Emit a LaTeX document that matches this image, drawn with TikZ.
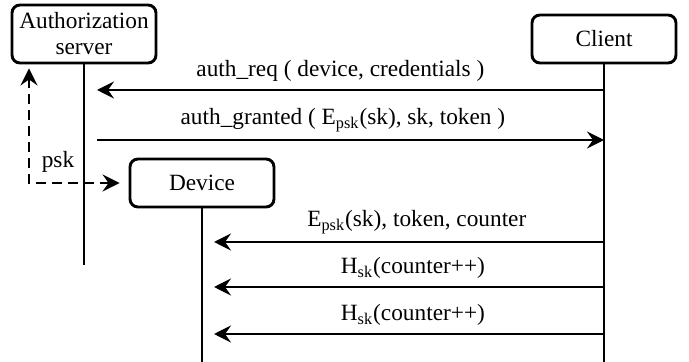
\documentclass[tikz,border=0pt]{standalone}
\usepackage{fontspec}
\setmainfont{Liberation Serif}
\usetikzlibrary{arrows.meta}

\begin{document}
\begin{tikzpicture}[x=0.5pt,y=-0.5pt,line width=1.45pt,
    every node/.style={font=\fontsize{11.65}{13}\selectfont},
    actor/.style={draw,rounded corners=4pt,minimum width=72pt,minimum height=24pt,inner sep=1pt,align=center},
    msg/.style={-{Stealth[length=8.5pt,width=8.5pt,inset=3pt]}},
    pskline/.style={{Stealth[length=8.5pt,width=8.5pt,inset=3pt]}-{Stealth[length=8.5pt,width=8.5pt,inset=3pt]},dash pattern=on 5pt off 3pt}]
    \useasboundingbox (0,0) rectangle (689,362);
    % participants
    \node[actor,minimum height=29pt] (auth) at (84,34) {Authorization\\server};
    \node[actor] (client) at (604,39) {Client};
    \node[actor] (device) at (202,183) {Device};
    % lifelines
    \coordinate (auth-end) at (auth.south |- 0,265);
    \coordinate (client-end) at (client.south |- 0,362);
    \coordinate (device-end) at (device.south |- 0,362);
    \draw (auth.south) -- (auth-end);
    \draw (client.south) -- (client-end);
    \draw (device.south) -- (device-end);
    % message ends
    \coordinate (req-from) at (client.south |- 0,90);
    \path (auth.south |- 0,90) ++(13,0) coordinate (req-to);
    \path (auth.south |- 0,140) ++(13,0) coordinate (grant-from);
    \coordinate (grant-to) at (client.south |- 0,140);
    \coordinate (key-from) at (client.south |- 0,242);
    \path (device.south |- 0,242) ++(12,0) coordinate (key-to);
    \coordinate (hash1-from) at (client.south |- 0,287);
    \path (device.south |- 0,287) ++(12,0) coordinate (hash1-to);
    \coordinate (hash2-from) at (client.south |- 0,334);
    \path (device.south |- 0,334) ++(12,0) coordinate (hash2-to);
    % messages
    \draw[msg] (req-from) -- node[pos=0.52,above] {auth\_req ( device, credentials )} (req-to);
    \draw[msg] (grant-from) -- node[pos=0.485,above] {auth\_granted ( E\textsubscript{psk}(sk), sk, token )} (grant-to);
    \draw[msg] (key-from) -- node[pos=0.48,above] {E\textsubscript{psk}(sk), token, counter} (key-to);
    \draw[msg] (hash1-from) -- node[pos=0.49,above] {H\textsubscript{sk}(counter++)} (hash1-to);
    \draw[msg] (hash2-from) -- node[pos=0.49,above] {H\textsubscript{sk}(counter++)} (hash2-to);
    % pre-shared key
    \coordinate (psk-start) at (auth.south -| 29,0);
    \draw[pskline,shorten <=2pt,shorten >=4.5pt] (psk-start) |- (device.west);
    \node (psk) at (58,162) {psk};
\end{tikzpicture}
\end{document}
